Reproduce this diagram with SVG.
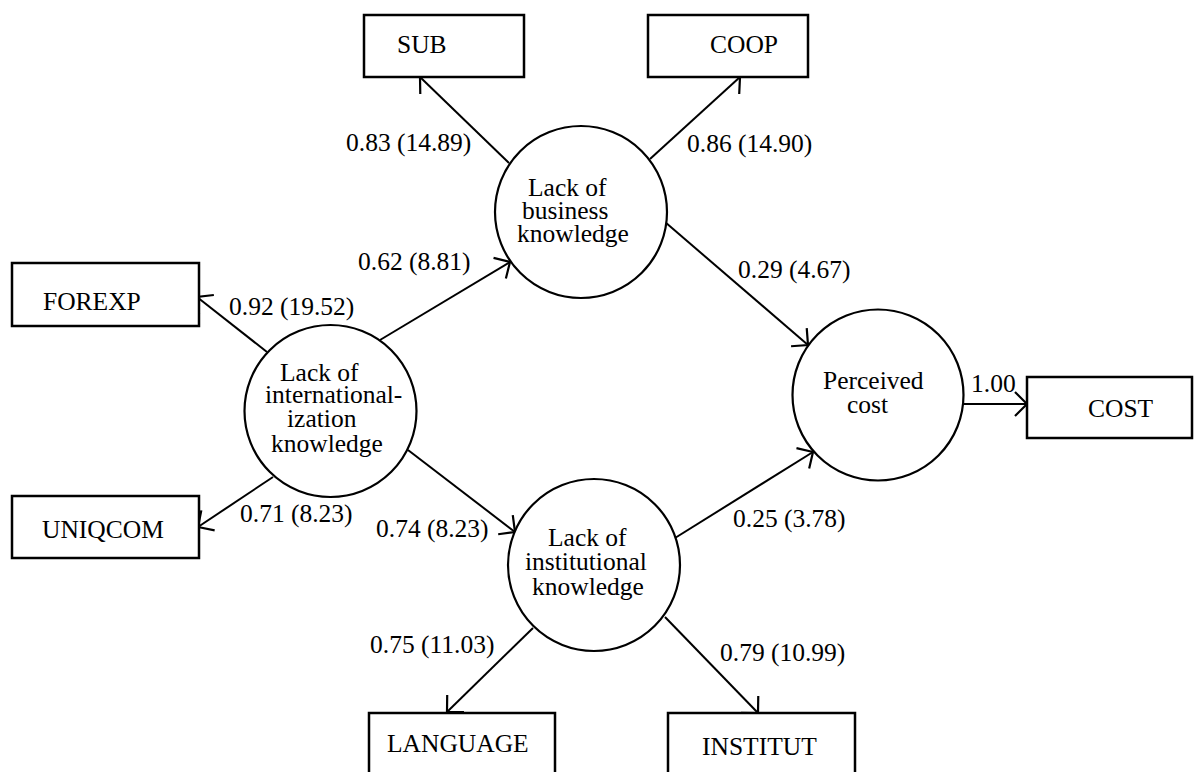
<svg xmlns="http://www.w3.org/2000/svg" width="1202" height="772" viewBox="0 0 1202 772">
<style>
text { font-family: "Liberation Serif", "Times New Roman", serif; font-size: 25.5px; fill: #000; }
.box { fill: #fff; stroke: #000; stroke-width: 2.5; }
.lat { fill: #fff; stroke: #000; stroke-width: 2.2; }
.edge { stroke: #000; stroke-width: 2; fill: none; marker-end: url(#arr); }
</style>
<defs>
<marker id="arr" markerUnits="userSpaceOnUse" markerWidth="30" markerHeight="30" viewBox="-15 -15 30 30" refX="0" refY="0" orient="auto">
<path d="M-12,-12 L0,0 L-12,12" fill="none" stroke="#000" stroke-width="2.2"/>
</marker>
</defs>
<rect width="1202" height="772" fill="#fff"/>
<g id="connectors">
<line class="edge" x1="509" y1="163" x2="420" y2="77"/>
<line class="edge" x1="650" y1="159" x2="740" y2="77"/>
<line class="edge" x1="267" y1="352" x2="197" y2="297"/>
<line class="edge" x1="273" y1="477" x2="198" y2="527"/>
<line class="edge" x1="380" y1="340" x2="510" y2="262"/>
<line class="edge" x1="408" y1="450" x2="515" y2="532"/>
<line class="edge" x1="665" y1="222" x2="808" y2="345"/>
<line class="edge" x1="675" y1="538" x2="813" y2="452"/>
<line class="edge" x1="963" y1="404" x2="1027" y2="404"/>
<line class="edge" x1="533" y1="628" x2="447" y2="712"/>
<line class="edge" x1="665" y1="617" x2="758" y2="713"/>
</g>
<g id="labels">
<text x="346" y="151">0.83 (14.89)</text>
<text x="687" y="152">0.86 (14.90)</text>
<text x="358" y="270">0.62 (8.81)</text>
<text x="229" y="315">0.92 (19.52)</text>
<text x="738" y="278">0.29 (4.67)</text>
<text x="971" y="392">1.00</text>
<text x="240" y="522">0.71 (8.23)</text>
<text x="376" y="537">0.74 (8.23)</text>
<text x="733" y="527">0.25 (3.78)</text>
<text x="370" y="653">0.75 (11.03)</text>
<text x="720" y="661">0.79 (10.99)</text>
</g>
<g id="SUB"><rect class="box" x="364" y="15" width="160" height="62"/><text x="397" y="53">SUB</text></g>
<g id="COOP"><rect class="box" x="648" y="15" width="160" height="62"/><text x="710" y="53">COOP</text></g>
<g id="FOREXP"><rect class="box" x="12" y="263" width="187" height="63"/><text x="43" y="310">FOREXP</text></g>
<g id="UNIQCOM"><rect class="box" x="12" y="496" width="187" height="62"/><text x="42" y="538">UNIQCOM</text></g>
<g id="COST"><rect class="box" x="1027" y="377" width="165" height="61"/><text x="1088" y="417">COST</text></g>
<g id="LANGUAGE"><rect class="box" x="369" y="713" width="186" height="70"/><text x="387" y="752">LANGUAGE</text></g>
<g id="INSTITUT"><rect class="box" x="668" y="713" width="187" height="70"/><text x="702" y="755">INSTITUT</text></g>
<g id="business">
<circle class="lat" cx="581" cy="212" r="86"/>
<text x="528" y="196">Lack of</text>
<text x="522" y="219">business</text>
<text x="517" y="242">knowledge</text>
</g>
<g id="internationalization">
<circle class="lat" cx="330.5" cy="411" r="86"/>
<text x="280" y="381">Lack of</text>
<text x="265" y="403">international-</text>
<text x="287" y="427">ization</text>
<text x="271" y="452">knowledge</text>
</g>
<g id="institutional">
<circle class="lat" cx="594" cy="565" r="86"/>
<text x="548" y="546">Lack of</text>
<text x="525" y="570">institutional</text>
<text x="532" y="595">knowledge</text>
</g>
<g id="perceived">
<circle class="lat" cx="878" cy="395" r="85.5"/>
<text x="823" y="389">Perceived</text>
<text x="847" y="413">cost</text>
</g>
</svg>
